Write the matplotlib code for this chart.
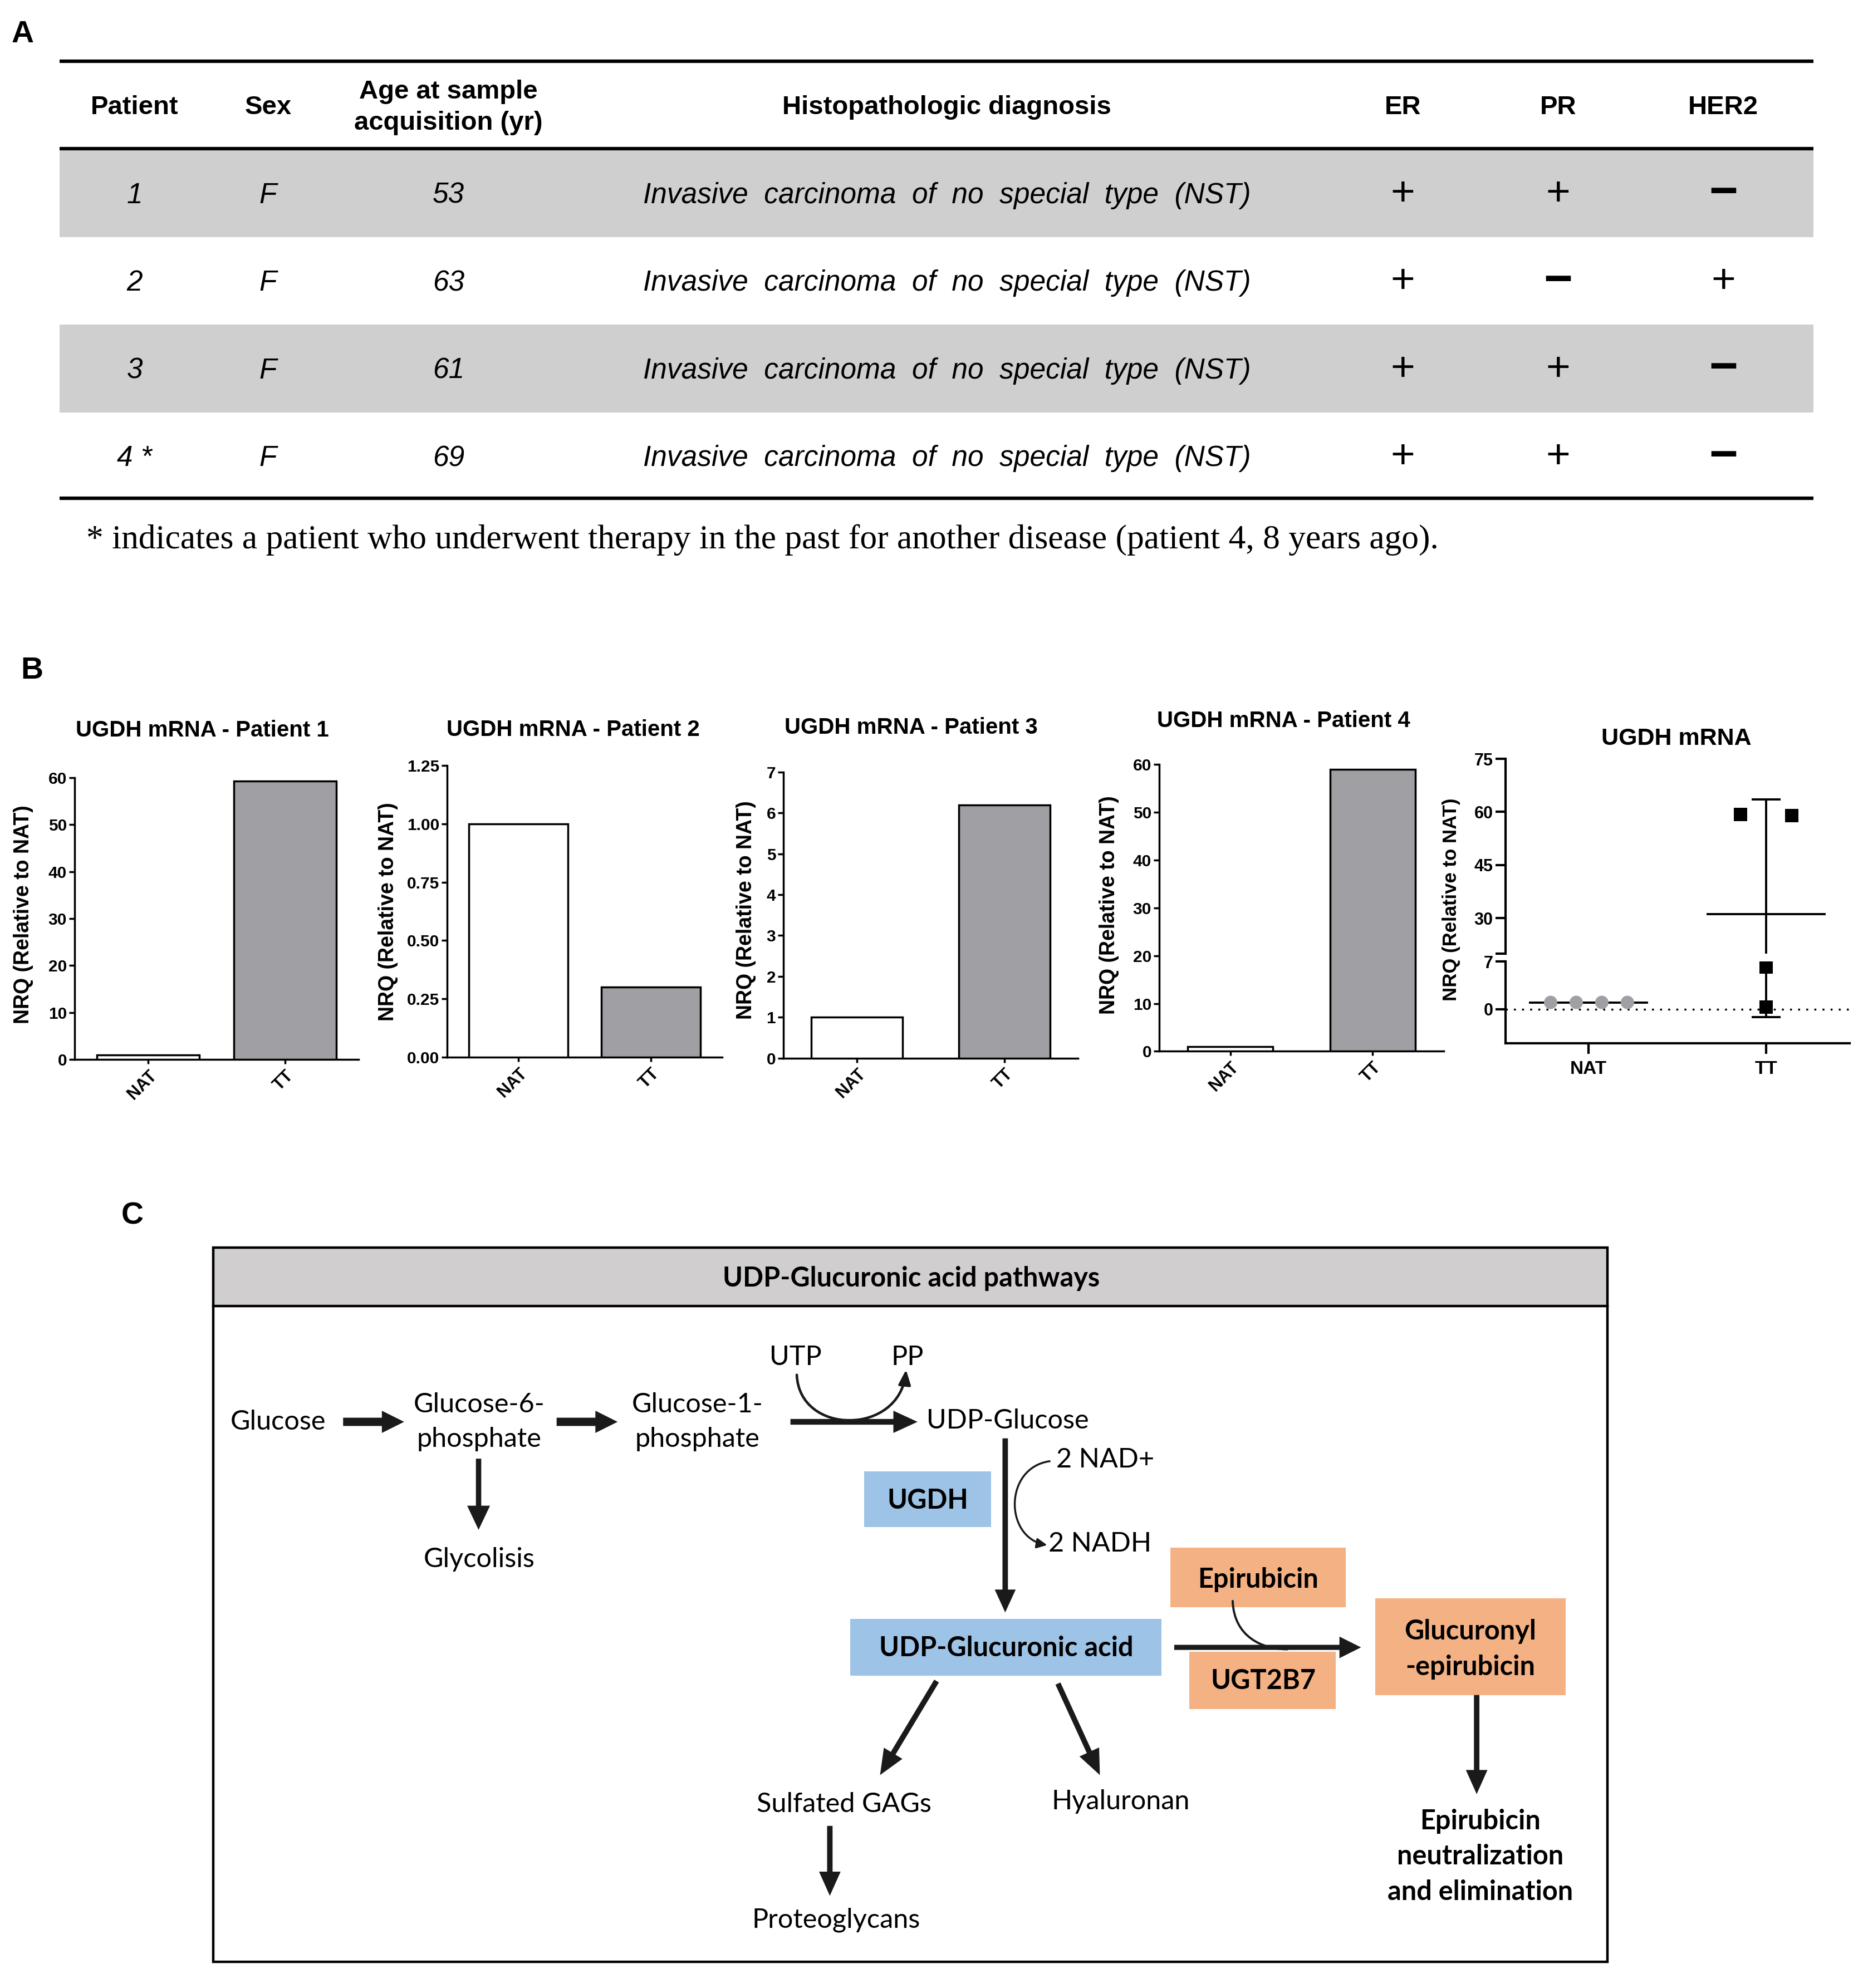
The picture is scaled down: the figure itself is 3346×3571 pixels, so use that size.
import matplotlib
matplotlib.use('Agg')
import matplotlib.pyplot as plt
from matplotlib.patches import Rectangle, FancyArrowPatch
from matplotlib.path import Path
from matplotlib.ticker import FormatStrFormatter
import numpy as np

# ---------------- data ----------------
table_columns = ['Patient', 'Sex', 'Age at sample\nacquisition (yr)',
                 'Histopathologic diagnosis', 'ER', 'PR', 'HER2']
patient_ids = ['1', '2', '3', '4 *']
sex = ['F', 'F', 'F', 'F']
age = ['53', '63', '61', '69']
diagnosis = ['Invasive carcinoma of no special type (NST)'] * 4
er_status = ['+', '+', '+', '+']
pr_status = ['+', '−', '+', '+']
her2_status = ['−', '+', '−', '−']
footnote = ('* indicates a patient who underwent therapy in the past for '
            'another disease (patient 4, 8 years ago).')

groups = ['NAT', 'TT']
nat_nrq = [1.0, 1.0, 1.0, 1.0]
tt_nrq = [59.3, 0.30, 6.2, 59.0]
patient_titles = ['UGDH mRNA - Patient 1', 'UGDH mRNA - Patient 2',
                  'UGDH mRNA - Patient 3', 'UGDH mRNA - Patient 4']
patient_ymax = [60, 1.25, 7, 60]
patient_yticks = [[0, 10, 20, 30, 40, 50, 60],
                  [0.0, 0.25, 0.50, 0.75, 1.00, 1.25],
                  [0, 1, 2, 3, 4, 5, 6, 7],
                  [0, 10, 20, 30, 40, 50, 60]]
summary_title = 'UGDH mRNA'
summary_upper_ticks = [20, 30, 45, 60, 75]
summary_upper_labels = ['', '30', '45', '60', '75']
summary_lower_ticks = [0, 7]
ylabel_text = 'NRQ (Relative to NAT)'

pathway_title = 'UDP-Glucuronic acid pathways'

# ---------------- figure ----------------
W, H = 3346, 3571
DW = 1466.0
DH = DW * H / W
fig = plt.figure(figsize=(W / 100, H / 100), dpi=100)
ov = fig.add_axes([0, 0, 1, 1])
ov.set_xlim(0, DW)
ov.set_ylim(DH, 0)
ov.axis('off')


def frac(x0, y0, x1, y1):
    return [x0 / DW, 1 - y1 / DH, (x1 - x0) / DW, (y1 - y0) / DH]


SANS = 'Liberation Sans'
INK = '#1a1a1a'

# panel letters
for lab, (lx, ly) in zip(['A', 'B', 'C'], [(18, 27), (25, 528), (104, 957)]):
    ov.text(lx, ly, lab, fontsize=40, fontweight='bold', family=SANS,
            ha='center', va='center')

# ---------------- panel A: table ----------------
TL, TR = 47, 1427
row_y = [152, 221, 290, 359]
row_h = 69
for i, y in enumerate(row_y):
    if i % 2 == 0:
        ov.add_patch(Rectangle((TL, y - row_h / 2), TR - TL, row_h,
                               facecolor='#cfcfcf', edgecolor='none', zorder=0))
for yl in (48, 117, 392):
    ov.plot([TL, TR], [yl, yl], color='black', lw=4.5, solid_capstyle='butt')

col_x = [106, 211, 353, 745, 1104, 1226, 1356]
for cx, name in zip(col_x, table_columns):
    ov.text(cx, 84.5, name, ha='center', va='center', fontsize=34,
            fontweight='bold', family=SANS, linespacing=1.35)

for i, y in enumerate(row_y):
    vals = [patient_ids[i], sex[i], age[i], diagnosis[i].replace(' ', '  ')]
    for cx, v in zip(col_x[:4], vals):
        ov.text(cx, y + 2, v, ha='center', va='center', fontsize=37,
                style='italic', family=SANS)
    for cx, v in zip(col_x[4:], [er_status[i], pr_status[i], her2_status[i]]):
        if v == '+':
            ov.text(cx, y + 1, v, ha='center', va='center', fontsize=54,
                    family=SANS)
        else:
            ov.text(cx, y + 1, v, ha='center', va='center', fontsize=64,
                    fontweight='bold', family=SANS)

fn = ov.text(68, 425, footnote, ha='left', va='center', fontsize=38,
             family='Liberation Serif')

# ---------------- panel B: per-patient bars ----------------
bar_boxes = [(58.7, 612.1, 282.2, 833.8), (351.8, 602.4, 568.3, 832.0),
             (616.5, 607.7, 848.2, 832.7), (912.2, 601.6, 1136.1, 827.4)]
bar_xlims = [(-0.54, 1.54), (-0.54, 1.54), (-0.5, 1.5), (-0.5, 1.5)]
bar_widths = [0.75, 0.75, 0.62, 0.6]
title_pos = [(159, 575), (451, 574.4), (717, 572.6), (1010, 567.6)]
ylab_pos = [(18.6, 719.5), (305.4, 717.4), (587, 716.4), (872.8, 712.2)]

for i in range(4):
    ax = fig.add_axes(frac(*bar_boxes[i]))
    ax.patch.set_alpha(0)
    vals = [nat_nrq[i], tt_nrq[i]]
    ax.bar([0, 1], vals, width=bar_widths[i], color=['white', '#a0a0a4'],
           edgecolor='black', linewidth=2.5, zorder=3)
    ax.set_xlim(*bar_xlims[i])
    ax.set_ylim(0, patient_ymax[i])
    ax.set_yticks(patient_yticks[i])
    if i == 1:
        ax.yaxis.set_major_formatter(FormatStrFormatter('%.2f'))
    ax.set_xticks([0, 1])
    ax.set_xticklabels(groups, rotation=45, ha='right', rotation_mode='anchor',
                       fontsize=22, fontweight='bold', family=SANS)
    for s in ('top', 'right'):
        ax.spines[s].set_visible(False)
    for s in ('left', 'bottom'):
        ax.spines[s].set_linewidth(2.5)
    ax.tick_params(axis='y', length=7, width=2.5, labelsize=21.5, pad=3)
    ax.tick_params(axis='x', length=6, width=2.5, pad=4)
    for lab in ax.get_yticklabels():
        lab.set_fontweight('bold')
        lab.set_family(SANS)
    ov.text(*title_pos[i], patient_titles[i], ha='center', va='center',
            fontsize=29, fontweight='bold', family=SANS)
    ov.text(*ylab_pos[i], ylabel_text, ha='center', va='center', rotation=90,
            fontsize=27, fontweight='bold', family=SANS)

# ---------------- panel B: summary (broken axis) ----------------
up = fig.add_axes(frac(1184.7, 597.2, 1455.5, 750.5))
lo = fig.add_axes(frac(1184.7, 756.7, 1455.5, 821.1))
nat_offsets = [-0.213, -0.069, 0.075, 0.219]
tt_offsets = [-0.144, 0.0, 0.0, 0.144]
m_nat, m_tt = np.mean(nat_nrq), np.mean(tt_nrq)
sd_nat, sd_tt = np.std(nat_nrq, ddof=1), np.std(tt_nrq, ddof=1)
for ax in (up, lo):
    ax.patch.set_alpha(0)
    ax.set_xlim(-0.467, 1.47)
    ax.plot([-0.33, 0.33], [m_nat, m_nat], color='black', lw=2.8, zorder=2)
    ax.plot([0.67, 1.33], [m_tt, m_tt], color='black', lw=2.8, zorder=2)
    ax.errorbar([0, 1], [m_nat, m_tt], yerr=[sd_nat, sd_tt], fmt='none',
                ecolor='black', elinewidth=2.8, capsize=18.5, capthick=2.8,
                zorder=2)
    ax.scatter(np.array(nat_offsets) + 0, nat_nrq, s=300, marker='o',
               color='#a0a0a4', edgecolors='none', zorder=4)
    ax.scatter(np.array(tt_offsets) + 1, tt_nrq, s=300, marker='s',
               color='black', edgecolors='none', zorder=4)
    for s in ('top', 'right'):
        ax.spines[s].set_visible(False)
    ax.spines['left'].set_linewidth(3)
    ax.spines['bottom'].set_linewidth(3)
up.set_ylim(20, 75)
lo.set_ylim(-5, 7)
up.spines['bottom'].set_visible(False)
up.set_xticks([])
up.set_yticks(summary_upper_ticks)
up.set_yticklabels(summary_upper_labels)
lo.set_yticks(summary_lower_ticks)
lo.set_xticks([0, 1])
lo.set_xticklabels(groups)
lo.axhline(0, color='black', lw=2.5, ls=(0, (1, 3.2)), zorder=1)
for ax in (up, lo):
    ax.tick_params(axis='y', length=13, width=3, labelsize=22, pad=3)
    for lab in ax.get_yticklabels():
        lab.set_fontweight('bold')
        lab.set_family(SANS)
lo.tick_params(axis='x', length=14, width=3, labelsize=24, pad=8)
for lab in lo.get_xticklabels():
    lab.set_fontweight('bold')
    lab.set_family(SANS)
ov.text(1319.2, 581.2, summary_title, ha='center', va='center', fontsize=31,
        fontweight='bold', family=SANS)
ov.text(1141.8, 708, ylabel_text, ha='center', va='center', rotation=90,
        fontsize=25, fontweight='bold', family=SANS)

# ---------------- panel C: pathway diagram ----------------
PF = 'Lato'
FSC = 35
ov.add_patch(Rectangle((168, 982), 1097, 46, facecolor='#d0cece',
                       edgecolor='none', zorder=1))
ov.add_patch(Rectangle((168, 982), 1097, 562, facecolor='none',
                       edgecolor='black', lw=3.2, zorder=3))
ov.plot([168, 1265], [1028, 1028], color='black', lw=3.2, zorder=3)
ov.text(717, 1006, pathway_title, ha='center', va='center', fontsize=35,
        fontweight='bold', family=PF, zorder=4)

boxes = [((680, 1158), 100, 44, '#9dc3e6'),
         ((669, 1274), 245, 45, '#9dc3e6'),
         ((921, 1218), 138, 47, '#f4b183'),
         ((936, 1300), 115, 45, '#f4b183'),
         ((1082, 1258), 150, 76, '#f4b183')]
for (bx, by), bw, bh, bc in boxes:
    ov.add_patch(Rectangle((bx, by), bw, bh, facecolor=bc, edgecolor='none',
                           zorder=1))

nodes = [(219, 1119, 'Glucose', False, 'center'),
         (377, 1119, 'Glucose-6-\nphosphate', False, 'center'),
         (549, 1119, 'Glucose-1-\nphosphate', False, 'center'),
         (626, 1068, 'UTP', False, 'center'),
         (714, 1068, 'PP', False, 'center'),
         (729, 1118, 'UDP-Glucose', False, 'left'),
         (730, 1181, 'UGDH', True, 'center'),
         (831, 1149, '2 NAD+', False, 'left'),
         (825, 1215, '2 NADH', False, 'left'),
         (377, 1227, 'Glycolisis', False, 'center'),
         (792, 1297, 'UDP-Glucuronic acid', True, 'center'),
         (990, 1243, 'Epirubicin', True, 'center'),
         (994, 1323, 'UGT2B7', True, 'center'),
         (1157, 1298, 'Glucuronyl\n-epirubicin', True, 'center'),
         (664, 1420, 'Sulfated GAGs', False, 'center'),
         (882, 1418, 'Hyaluronan', False, 'center'),
         (658, 1511, 'Proteoglycans', False, 'center'),
         (1165, 1461, 'Epirubicin\nneutralization\nand elimination', True, 'center')]
for x, y, s, b, ha in nodes:
    ov.text(x, y, s, ha=ha, va='center', fontsize=FSC,
            fontweight='bold' if b else 'normal', family=PF,
            linespacing=1.5, zorder=4)


def arr(x0, y0, x1, y1, w, hw, hl):
    ov.arrow(x0, y0, x1 - x0, y1 - y0, width=w, head_width=hw, head_length=hl,
             length_includes_head=True, color=INK, lw=0, zorder=2)


arr(270, 1119, 318, 1119, 6.5, 17.5, 17.5)
arr(438, 1119, 486, 1119, 6.5, 17.5, 17.5)
arr(622, 1119, 722, 1119, 4.5, 17.5, 19)
arr(376.6, 1148, 376.6, 1204, 4.2, 18, 19)
arr(791, 1132, 791, 1269, 4.3, 16.5, 18)
arr(737, 1323, 692.5, 1397, 4.3, 17, 20)
arr(832.5, 1325, 865.5, 1397, 4.3, 17, 20)
arr(653, 1437, 653, 1492, 4.3, 17, 19)
arr(1162, 1334, 1162, 1412, 4.3, 17, 19)
arr(924, 1296.5, 1071, 1296.5, 4.0, 17, 17)


def curve(verts, head, lw, hl=0.8, hw=0.33):
    codes = [Path.MOVETO, Path.CURVE4, Path.CURVE4, Path.CURVE4]
    style = ('-|>,head_length=%g,head_width=%g' % (hl, hw)) if head else '-'
    p = FancyArrowPatch(path=Path(verts, codes), arrowstyle=style,
                        mutation_scale=20, lw=lw, color=INK, zorder=3)
    ov.add_patch(p)


curve([(627, 1082), (629, 1130), (708, 1130), (713, 1078)], True, 3.3)
curve([(826, 1150), (790, 1155), (790, 1210), (824, 1216)], True, 2.5,
      hl=0.55, hw=0.27)
curve([(970, 1260), (971, 1288), (993, 1298), (1013, 1298)], False, 2.8)

# fit footnote width to the reference
fig.canvas.draw()
r = fig.canvas.get_renderer()
bb = fn.get_window_extent(renderer=r)
fn.set_fontsize(fn.get_fontsize() * 2428.0 / bb.width)

fig.savefig('out.png', dpi=100)
